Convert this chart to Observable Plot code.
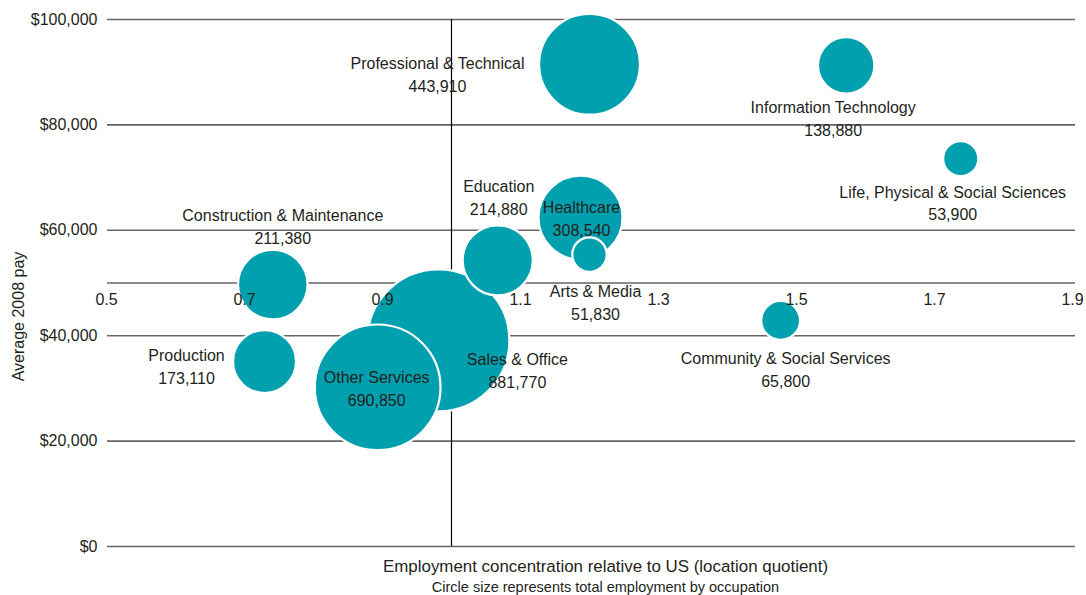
<!DOCTYPE html>
<html>
<head>
<meta charset="utf-8">
<script src="https://cdn.jsdelivr.net/npm/d3@7"></script>
<script src="https://cdn.jsdelivr.net/npm/@observablehq/plot@0.6"></script>
<style>
  html, body { margin: 0; padding: 0; background: #ffffff; }
  #chart svg { display: block; }
</style>
</head>
<body>
<div id="chart"></div>
<script>
// ---- data ----
const occupations = [
  "Professional & Technical",
  "Information Technology",
  "Life, Physical & Social Sciences",
  "Healthcare",
  "Arts & Media",
  "Education",
  "Construction & Maintenance",
  "Production",
  "Sales & Office",
  "Other Services",
  "Community & Social Services"
];
const locationQuotient = [1.200, 1.572, 1.738, 1.187, 1.200, 1.067, 0.741, 0.729, 0.981, 0.893, 1.477];
const averagePay       = [91500, 91300, 73600, 62400, 55400, 54300, 49700, 35100, 39100, 30200, 42900];
const employment       = [443910, 138880, 53900, 308540, 51830, 214880, 211380, 173110, 881770, 690850, 65800];

const xTicks = [0.5, 0.7, 0.9, 1.1, 1.3, 1.5, 1.7, 1.9];
const yTicks = [0, 20000, 40000, 60000, 80000, 100000];
const xAxisCrossing = 50000;   // pay level where the LQ axis is drawn
const referenceLQ = 1;         // US average concentration

const yTitle = "Average 2008 pay";
const xTitle = "Employment concentration relative to US (location quotient)";
const xSubtitle = "Circle size represents total employment by occupation";

// ---- layout: label offsets from each bubble centre, in pixels ----
const labelOffsets = {
  "Professional & Technical": [-152, 9],
  "Information Technology": [-13, 51.5],
  "Life, Physical & Social Sciences": [-8, 43],
  "Healthcare": [1, -0.5],
  "Arts & Media": [6, 46.5],
  "Education": [1, -64.5],
  "Construction & Maintenance": [10, -59],
  "Production": [-78, 3.5],
  "Sales & Office": [79, 28.5],
  "Other Services": [-1, -0.5],
  "Community & Social Services": [5, 47.5]
};

const rows = occupations.map((name, i) => ({
  name,
  lq: locationQuotient[i],
  pay: averagePay[i],
  emp: employment[i]
}));

const ink = "#231f20";
const teal = "#00a0ae";
const fmtInt = d3.format(",");

const labelMarks = rows.map(d => Plot.text([d], {
  x: "lq",
  y: "pay",
  text: r => r.name + "\n" + fmtInt(r.emp),
  dx: labelOffsets[d.name][0],
  dy: labelOffsets[d.name][1],
  lineHeight: 23 / 16,
  textAnchor: "middle",
  lineAnchor: "middle",
  fill: ink
}));

const chart = Plot.plot({
  width: 1086,
  height: 595,
  marginLeft: 106,
  marginRight: 14,
  marginTop: 19,
  marginBottom: 49,
  style: {
    fontFamily: "'Liberation Sans', Arial, sans-serif",
    fontSize: "16px",
    color: ink,
    background: "#ffffff"
  },
  x: { domain: [0.5, 1.9], axis: null },
  y: { domain: [0, 100000], axis: null },
  r: { type: "sqrt", domain: [0, d3.max(employment)], range: [0, 71] },
  marks: [
    Plot.ruleY([...yTicks, xAxisCrossing], {
      stroke: "#666666",
      strokeWidth: 1.6,
      insetLeft: 1,
      insetRight: -3
    }),
    Plot.ruleX([referenceLQ], { y1: 0, y2: 100000, stroke: "#000000", strokeWidth: 1.2 }),
    Plot.dot(rows, {
      x: "lq",
      y: "pay",
      r: "emp",
      fill: teal,
      stroke: "#ffffff",
      strokeWidth: 2.2
    }),
    Plot.axisY({
      ticks: yTicks,
      tickFormat: d => "$" + fmtInt(d),
      tickSize: 0,
      tickPadding: 9,
      label: null,
      fill: ink
    }),
    Plot.text(xTicks, {
      x: d => d,
      y: () => xAxisCrossing,
      text: d => d3.format(".1f")(d),
      dy: 17,
      fill: ink
    }),
    ...labelMarks,
    Plot.text([yTitle], {
      frameAnchor: "left",
      textAnchor: "middle",
      lineAnchor: "middle",
      rotate: -90,
      dx: -88,
      dy: 33.5,
      fill: ink
    }),
    Plot.text([xTitle], {
      frameAnchor: "bottom",
      textAnchor: "middle",
      lineAnchor: "middle",
      dx: 16,
      dy: 20,
      fontSize: 16.9,
      fill: ink
    }),
    Plot.text([xSubtitle], {
      frameAnchor: "bottom",
      textAnchor: "middle",
      lineAnchor: "middle",
      dx: 16,
      dy: 41,
      fontSize: 14.5,
      fill: ink
    })
  ]
});

document.getElementById("chart").appendChild(chart);
</script>
</body>
</html>
